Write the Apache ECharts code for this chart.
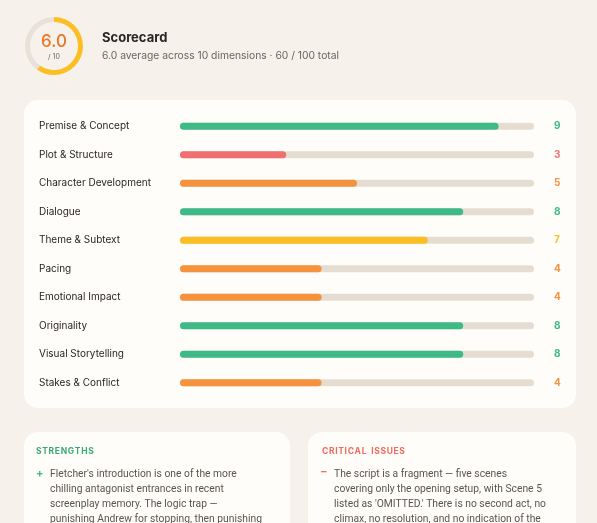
<!DOCTYPE html>
<html><head><meta charset="utf-8">
<script src="https://cdn.jsdelivr.net/npm/echarts@6/dist/echarts.min.js"></script>
<style>html,body{margin:0;padding:0;background:#f6f1eb}#c{width:597px;height:523px}</style>
</head><body><div id="c"></div>
<script>
const categories=["Premise & Concept","Plot & Structure","Character Development","Dialogue","Theme & Subtext","Pacing","Emotional Impact","Originality","Visual Storytelling","Stakes & Conflict"];
const scores=[9,3,5,8,7,4,4,8,8,4];
const average=6.0;
const strengthLines=["Fletcher's introduction is one of the more","chilling antagonist entrances in recent","screenplay memory. The logic trap —","punishing Andrew for stopping, then punishing"];
const issueLines=["The script is a fragment — five scenes","covering only the opening setup, with Scene 5","listed as 'OMITTED.' There is no second act, no","climax, no resolution, and no indication of the"];
const F='Inter, "Noto Sans", sans-serif';
const R='Roboto, "Noto Sans", sans-serif';
function col(v){return v>=8?'#3dba86':v>=7?'#fbbf24':v>=4?'#f5923e':'#f07070';}
const ch=echarts.init(document.getElementById('c'));
ch.setOption({
  backgroundColor:'#f6f1eb',
  graphic:[
    {type:'rect',shape:{x:24,y:100,width:552,height:308,r:14},style:{fill:'#fffdf9'},z:-1},
    {type:'rect',shape:{x:24,y:432,width:266,height:120,r:14},style:{fill:'#fffdf9'},z:-1},
    {type:'rect',shape:{x:308,y:432,width:268,height:120,r:14},style:{fill:'#fffdf9'},z:-1},
    {type:'text',x:54,y:42,style:{text:average.toFixed(1),font:'500 17px '+F,fill:'#e8782a',align:'center',verticalAlign:'middle'}},
    {type:'text',x:54,y:57,style:{text:'/ 10',font:'7px '+F,fill:'#6b6560',align:'center',verticalAlign:'middle'}},
    {type:'text',x:102,y:38,style:{text:'Scorecard',font:'bold 13px '+F,fill:'#2a2522',verticalAlign:'middle'}},
    {type:'text',x:102,y:56,style:{text:average.toFixed(1)+' average across '+scores.length+' dimensions · '+scores.reduce((a,b)=>a+b,0)+' / 100 total',font:'10.3px '+F,fill:'#6b6560',verticalAlign:'middle'}},
    {type:'text',x:36,y:447,style:{text:'S T R E N G T H S'.replace(/ /g,'\u200A'),font:'bold 8.5px '+F,fill:'#3aa876'}},
    {type:'text',x:322,y:447,style:{text:'C R I T I C A L   I S S U E S'.replace(/ (?! )/g,'\u200A'),font:'bold 8.5px '+F,fill:'#ef6a5a'}},
    {type:'text',x:36,y:468,style:{text:'+',font:'bold 11px '+F,fill:'#3dba86'}},
    {type:'text',x:321,y:466,style:{text:'–',font:'bold 11px '+F,fill:'#f07070'}},
    {type:'text',x:50,y:467,style:{text:strengthLines.join('\n'),font:'10.3px '+R,lineHeight:15,fill:'#5a5450'}},
    {type:'text',x:334,y:467,style:{text:issueLines.join('\n'),font:'10.3px '+R,lineHeight:15,fill:'#5a5450'}}
  ],
  grid:{left:180,right:63,top:112,bottom:126},
  xAxis:{type:'value',min:0,max:10,show:false},
  yAxis:[
    {type:'category',data:categories,inverse:true,axisLine:{show:false},axisTick:{show:false},
     axisLabel:{align:'left',margin:141,fontSize:10,fontFamily:F,color:'#2a2522'}},
    {type:'category',data:scores.map(String),inverse:true,position:'right',axisLine:{show:false},axisTick:{show:false},
     axisLabel:{margin:20,fontSize:10,fontWeight:'bold',fontFamily:F,formatter:(v,i)=>'{c'+i+'|'+v+'}',
       rich:Object.fromEntries(scores.map((s,i)=>['c'+i,{color:col(s),fontWeight:'bold',fontSize:10}]))}}
  ],
  series:[
    {type:'bar',data:scores.map(s=>({value:s,itemStyle:{color:col(s),borderRadius:4}})),barWidth:7,
     showBackground:true,backgroundStyle:{color:'#e6ddd2',borderRadius:4},silent:true},
    {type:'pie',center:[54,46],radius:[24,29],startAngle:90,clockwise:true,silent:true,label:{show:false},
     data:[{value:average,itemStyle:{color:'#fbbf24'}},{value:10-average,itemStyle:{color:'#e8e1d7'}}]}
  ]
});
</script></body></html>
